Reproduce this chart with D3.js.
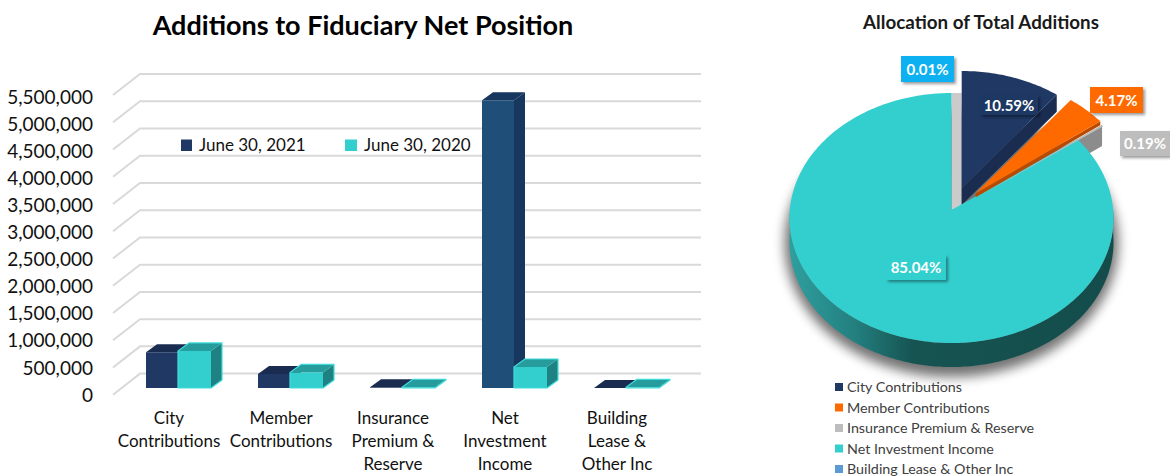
<!DOCTYPE html>
<html><head><meta charset="utf-8">
<script src="https://cdn.jsdelivr.net/npm/d3@7"></script>
<style>
html,body{margin:0;padding:0;background:#fff;overflow:hidden}
svg{display:block}
text{font-family:Lato,"Open Sans",sans-serif}
</style></head><body>
<svg id="c" width="1170" height="476"></svg>
<script>
// ---- data ----
const categories = [["City","Contributions"],["Member","Contributions"],["Insurance","Premium &","Reserve"],["Net","Investment","Income"],["Building","Lease &","Other Inc"]];
const series2021 = [656000, 259000, 12000, 5280000, 1000];
const series2020 = [680000, 285000, 14000, 385000, 12000];
const seriesNames = ["June 30, 2021","June 30, 2020"];
const yTicks = [0,500000,1000000,1500000,2000000,2500000,3000000,3500000,4000000,4500000,5000000,5500000];
const pieNames = ["City Contributions","Member Contributions","Insurance Premium & Reserve","Net Investment Income","Building Lease & Other Inc"];
const pieValues = [10.59,4.17,0.19,85.04,0.01];
const pieLabels = ["10.59%","4.17%","0.19%","85.04%","0.01%"];

// ---- styles ----
const pieColors = ["#1f3864","#ff6a00","#bdbdbd","#33cfcf","#5b9bd5"];
const navy={front:"#1f3864",top:"#1a2c50",side:"#1a2c50"}, net={front:"#1f4e79",top:"#17375e",side:"#17375e"},
      teal={front:"#33cfcf",top:"#269c9c",side:"#1f8282",stroke:"#3fdcdc"};

const svg=d3.select("#c");
const defs=svg.append("defs");
const blur=defs.append("filter").attr("id","blur").attr("x","-20%").attr("y","-20%").attr("width","140%").attr("height","140%");
blur.append("feGaussianBlur").attr("stdDeviation",6);
const ds=defs.append("filter").attr("id","ds").attr("x","-30%").attr("y","-30%").attr("width","170%").attr("height","170%");
ds.append("feDropShadow").attr("dx",2).attr("dy",2).attr("stdDeviation",1.5).attr("flood-color","#000").attr("flood-opacity",.4);
const wallGrad=defs.append("linearGradient").attr("id","wall").attr("x1",0).attr("x2",1).attr("y1",0).attr("y2",0);
[[0,"#2f9f9f"],[.2,"#23807f"],[.38,"#165452"],[1,"#134c4b"]].forEach(s=>wallGrad.append("stop").attr("offset",s[0]).attr("stop-color",s[1]));

// ---- titles ----
svg.append("text").attr("x",363).attr("y",35).attr("text-anchor","middle").attr("font-weight",700).attr("font-size",27).attr("fill","#000").text("Additions to Fiduciary Net Position");
svg.append("text").attr("x",981).attr("y",29).attr("text-anchor","middle").attr("font-weight",700).attr("font-size",18.8).attr("fill","#1a1a1a").text("Allocation of Total Additions");

// ---- bar chart ----
const maxV=5500000;
const yFront=d3.scaleLinear().domain([0,maxV]).range([394.7,95]);
const yBack=d3.scaleLinear().domain([0,maxV]).range([373.6,74]);
const yBar=d3.scaleLinear().domain([0,maxV]).range([388,88.3]);
const yLabel=d3.scaleLinear().domain([0,maxV]).range([393.5,95.8]);
const x0=d3.scaleBand().domain(d3.range(categories.length)).range([113,673]);
const x1=d3.scaleBand().domain([0,1]).range([33,99]);
const depthX=11, depthY=8;

const grid=svg.append("g").attr("stroke","#d9d9d9").attr("stroke-width",2).attr("fill","none");
yTicks.forEach(t=>{
  grid.append("path").attr("d",d3.line()([[113,yFront(t)],[140,yBack(t)],[701,yBack(t)]]));
});

const yAxis=d3.axisLeft(yLabel).tickValues(yTicks).tickFormat(d3.format(",")).tickSize(0).tickPadding(0);
const ax=svg.append("g").attr("transform","translate(93,0)").call(yAxis);
ax.select(".domain").remove();
ax.selectAll("text").attr("font-family","Lato").attr("font-size",19).attr("fill","#111").attr("dy","0.4em");

function bar3d(g,x,w,v,c){
  const y=yBar(v), b=yBar(0);
  g.append("path").attr("fill",c.side).attr("d",d3.line()([[x+w,y],[x+w+depthX,y-depthY],[x+w+depthX,b-depthY],[x+w,b]])+"Z");
  g.append("path").attr("fill",c.top).attr("d",d3.line()([[x,y],[x+depthX,y-depthY],[x+w+depthX,y-depthY],[x+w,y]])+"Z");
  g.append("rect").attr("x",x).attr("y",y).attr("width",w).attr("height",b-y).attr("fill",c.front);
  if(c.stroke){
    g.append("path").attr("fill","none").attr("stroke",c.stroke).attr("stroke-width",1.2).attr("stroke-linejoin","round")
     .attr("d",d3.line()([[x,b],[x,y],[x+depthX,y-depthY],[x+w+depthX,y-depthY],[x+w+depthX,b-depthY],[x+w,b],[x,b]]));
  }
}
const bars=svg.append("g");
categories.forEach((c,i)=>{
  const g=bars.append("g").attr("transform",`translate(${x0(i)},0)`);
  bar3d(g,x1(0),x1.bandwidth()-1,series2021[i],i===3?net:navy);
  bar3d(g,x1(1)-1,x1.bandwidth(),series2020[i],teal);
  const t=svg.append("text").attr("text-anchor","middle").attr("font-size",17).attr("fill","#111");
  c.forEach((l,j)=>t.append("tspan").attr("x",x0(i)+x0.bandwidth()/2).attr("y",424+j*23).text(l));
});

// bar legend
[[181,199,navy.front],[345,364,teal.front]].forEach((p,i)=>{
  svg.append("rect").attr("x",p[0]).attr("y",139.5).attr("width",i?12:11).attr("height",11.5).attr("fill",p[2]);
  svg.append("text").attr("x",p[1]).attr("y",150.5).attr("font-size",17).attr("fill","#111").text(seriesNames[i]);
});

// ---- pie ----
const cx=951.5, cy=210, A=124.5, B=161.7, k=-0.064;
const proj=(a,r=1)=>{const u=r*Math.sin(a),v=-r*Math.cos(a),w=1+k*v;return [B*u/w,A*v/w];};
const arcs=d3.pie().sort(null)(pieValues);
const sliceOffsets=[[10.2,-22],[24.2,-16.7],[26,-13],[0,0],[0,0]];
const P=(i,a)=>{const p=proj(a);return [cx+sliceOffsets[i][0]+p[0],cy+sliceOffsets[i][1]+p[1]];};
const apex=i=>[cx+sliceOffsets[i][0],cy+sliceOffsets[i][1]];
const arcPts=(i,a0,a1)=>{const n=Math.max(2,Math.ceil(Math.abs(a1-a0)*60));return d3.range(n+1).map(t=>P(i,a0+(a1-a0)*t/n));};
const line=d3.line();
const pg=svg.append("g");
const down=(pts,d)=>pts.map(p=>[p[0],p[1]+d]);

// shadow
pg.append("ellipse").attr("cx",cx).attr("cy",243).attr("rx",167).attr("ry",134).attr("fill","#000").attr("opacity",.55).attr("filter","url(#blur)");

// teal wall
{
  const pts=arcPts(3,Math.PI*0.5,Math.PI*1.5);
  pg.append("path").attr("fill","url(#wall)").attr("d",line(pts.concat(down(pts,24).reverse()))+"Z");
}
// light wall between teal and city
{
  const t=P(3,0), c=P(0,0);
  pg.append("path").attr("fill","#cbcbcb").attr("d",line([[cx,t[1]],[c[0],t[1]],[c[0],apex(0)[1]+18],apex(3)])+"Z");
}
// insurance wall
{
  const p=[apex(2),P(2,arcs[2].startAngle)];
  pg.append("path").attr("fill","#8c8c8c").attr("d",line(p.concat(down(p,21).reverse()))+"Z");
}
// city wall
{
  const p=[apex(0),P(0,arcs[0].endAngle)];
  pg.append("path").attr("fill","#1a2c50").attr("d",line(p.concat(down(p,17).reverse()))+"Z");
}
// teal top
const sliceD=i=>line([apex(i)].concat(arcPts(i,arcs[i].startAngle,arcs[i].endAngle)))+"Z";
pg.append("path").attr("fill",pieColors[3]).attr("d",sliceD(3));
pg.append("path").attr("fill",pieColors[4]).attr("d",sliceD(4));
pg.append("path").attr("fill",pieColors[2]).attr("d",sliceD(2));
// city top
pg.append("path").attr("fill",pieColors[0]).attr("d",sliceD(0));
// orange wall + top
{
  const p=[apex(1),P(1,arcs[1].endAngle)];
  pg.append("path").attr("fill","#b94a00").attr("d",line(p.concat(down(p,4).reverse()))+"Z");
  pg.append("path").attr("fill",pieColors[1]).attr("d",sliceD(1));
}

// pie labels: [index, x, y, w, h, fill]
const labelBoxes=[[0,980,95,58,20,"#1f3864"],[1,1090,87,53,26,"#ff6a00"],[2,1120,131,50,25,"#bdbdbd"],[3,886,255,60,25,"#33cfcf"],[4,901,56,53,26,"#0fb0f0"]];
labelBoxes.forEach(b=>{
  pg.append("rect").attr("x",b[1]).attr("y",b[2]).attr("width",b[3]).attr("height",b[4]).attr("fill",b[5]).attr("filter","url(#ds)");
  pg.append("text").attr("x",b[1]+b[3]/2).attr("y",b[2]+b[4]/2+5.5).attr("text-anchor","middle").attr("font-family","Open Sans").attr("font-weight",700).attr("font-size",15).attr("fill","#fff").text(pieLabels[b[0]]);
});

// pie legend
const ly=d3.scalePoint().domain(d3.range(pieNames.length)).range([387,469]);
pieNames.forEach((n,i)=>{
  pg.append("rect").attr("x",835).attr("y",ly(i)-4).attr("width",8).attr("height",8).attr("fill",pieColors[i]);
  pg.append("text").attr("x",847).attr("y",ly(i)+5).attr("font-family","Open Sans").attr("font-size",14.3).attr("fill","#404040").text(n);
});
</script>
</body></html>
